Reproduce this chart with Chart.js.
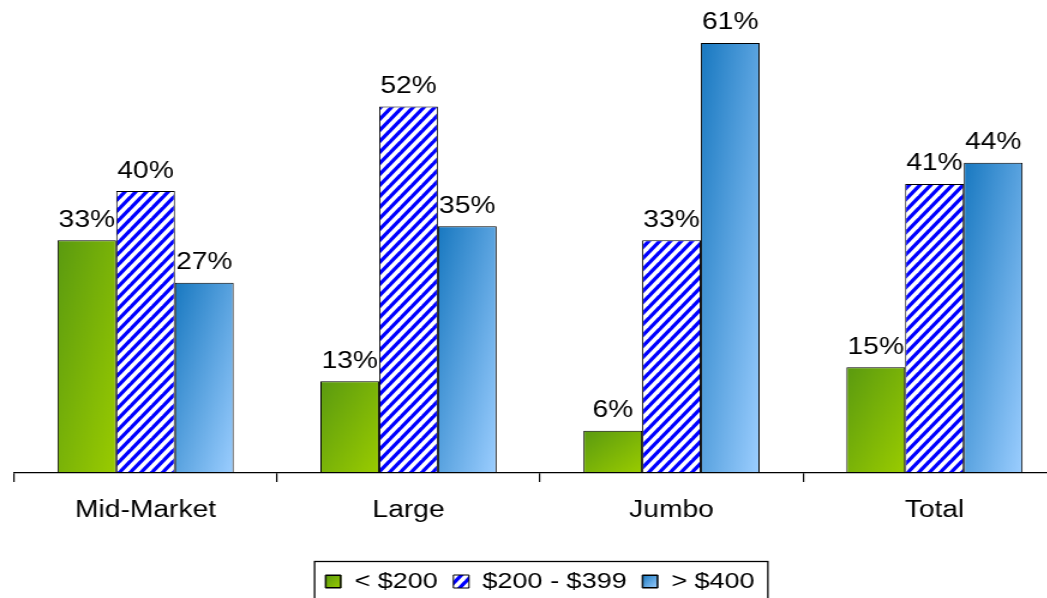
<!DOCTYPE html>
<html>
<head>
<meta charset="utf-8">
<script src="https://cdn.jsdelivr.net/npm/chart.js@4/dist/chart.umd.min.js"></script>
<style>
html, body { margin: 0; padding: 0; background: #fff; overflow: hidden; }
/* 元画像は横に引き伸ばされているので同じ比率で伸ばす */
#wrap { width: 900px; height: 598px; transform: scaleX(1.2); transform-origin: 0 0; }
</style>
</head>
<body>
<div id="wrap"><canvas id="segmentChart"></canvas></div>
<script>
// 区分ごとの価格帯割合
const categories = ['Mid-Market', 'Large', 'Jumbo', 'Total'];
const seriesNames = ['< $200', '$200 - $399', '> $400'];
const under200 = [33, 13, 6, 15];
const from200to399 = [40, 52, 33, 41];
const over400 = [27, 35, 61, 44];

const FONT = "'Liberation Sans', Arial, sans-serif";
const CAT_PCT = 0.67;
const GREEN = ['#5a9a10', '#9acc00'];
const BLUE = ['#1878c0', '#9cceff'];

const canvas = document.getElementById('segmentChart');
const ctx2d = canvas.getContext('2d');

// 斜線パターン（青／白）
function makeStripes() {
    const w = 9, h = 11;
    const c = document.createElement('canvas');
    c.width = w; c.height = h;
    const g = c.getContext('2d');
    g.fillStyle = '#fff';
    g.fillRect(0, 0, w, h);
    g.strokeStyle = '#0000ff';
    g.lineWidth = 3.3;
    for (let k = 0; k <= 2; k++) {
        g.beginPath();
        g.moveTo((k + 1) * w, -h);
        g.lineTo((k - 2) * w, 2 * h);
        g.stroke();
    }
    return ctx2d.createPattern(c, 'repeat');
}

// 左上→右下の斜めグラデーション
function diagGradient(c, left, top, w, h, colors) {
    const k = 2 * w * h / (w * w + h * h);
    const grad = c.createLinearGradient(left, top, left + h * k, top + w * k);
    grad.addColorStop(0, colors[0]);
    grad.addColorStop(1, colors[1]);
    return grad;
}

// 棒ごとのグラデーション
function barGradient(colors, legendColor) {
    return function (ctx) {
        if (ctx.type !== 'data') return legendColor;
        const chart = ctx.chart;
        const xs = chart.scales.x, ys = chart.scales.y;
        if (!xs || !ys || !chart.chartArea) return legendColor;
        const catW = (xs.right - xs.left) / categories.length;
        const bw = catW * CAT_PCT / 3;
        const left = xs.getPixelForValue(ctx.dataIndex) + (ctx.datasetIndex - 1.5) * bw;
        const top = ys.getPixelForValue(ctx.raw);
        const bottom = ys.getPixelForValue(0);
        return diagGradient(chart.ctx, left, top, bw, Math.max(bottom - top, 1), colors);
    };
}

// 棒の上に % を表示
const valueLabels = {
    id: 'valueLabels',
    afterDatasetsDraw(chart) {
        const c = chart.ctx;
        c.save();
        c.font = '23.5px ' + FONT;
        c.fillStyle = '#000';
        c.textAlign = 'center';
        c.textBaseline = 'alphabetic';
        chart.data.datasets.forEach((ds, i) => {
            chart.getDatasetMeta(i).data.forEach((bar, j) => {
                c.fillText(ds.data[j] + '%', bar.x, bar.y - 13.5);
            });
        });
        c.restore();
    }
};

// 凡例の枠線とマーカーのグラデーション
const legendFrame = {
    id: 'legendFrame',
    afterDraw(chart) {
        const hb = chart.legend && chart.legend.legendHitBoxes;
        if (!hb || !hb.length) return;
        const c = chart.ctx;
        c.save();
        const box = 13;
        [[0, GREEN], [2, BLUE]].forEach(([i, colors]) => {
            const it = hb[i];
            if (!it) return;
            const bx = it.left, by = it.top + (it.height - box) / 2;
            c.fillStyle = diagGradient(c, bx, by, box, box, colors);
            c.fillRect(bx, by, box, box);
            c.strokeStyle = '#000';
            c.lineWidth = 1;
            c.strokeRect(bx + 0.5, by + 0.5, box - 1, box - 1);
        });
        const first = hb[0], last = hb[hb.length - 1];
        const cy = first.top + first.height / 2;
        c.strokeStyle = '#000';
        c.lineWidth = 1.3;
        c.strokeRect(first.left - 9, cy - 20, last.left + last.width - first.left + 20, 60);
        c.restore();
    }
};

new Chart(ctx2d, {
    type: 'bar',
    data: {
        labels: categories,
        datasets: [
            { label: seriesNames[0], data: under200, backgroundColor: barGradient(GREEN, '#7db40a') },
            { label: seriesNames[1], data: from200to399, backgroundColor: makeStripes() },
            { label: seriesNames[2], data: over400, backgroundColor: barGradient(BLUE, '#5fa2e0') }
        ]
    },
    options: {
        responsive: true,
        maintainAspectRatio: false,
        animation: false,
        layout: { padding: { top: 14.75, left: 11.7, right: 11.7, bottom: -4.75 } },
        datasets: {
            bar: {
                categoryPercentage: CAT_PCT,
                barPercentage: 1,
                borderColor: '#000',
                borderWidth: 1,
                borderSkipped: false
            }
        },
        scales: {
            x: {
                grid: { display: true, offset: true, drawOnChartArea: false, drawTicks: true, tickLength: 9, color: '#000', lineWidth: 1.2 },
                border: { display: true, color: '#000', width: 1.3 },
                ticks: { color: '#000', padding: 14, font: { family: FONT, size: 23.5 } },
                afterFit(scale) { scale.height = 84.25; }
            },
            y: { display: false, min: 0, max: 65 }
        },
        plugins: {
            legend: {
                position: 'bottom',
                labels: { color: '#000', boxWidth: 13, boxHeight: 13, padding: 13, font: { family: FONT, size: 22.5 } }
            },
            tooltip: { enabled: false }
        }
    },
    plugins: [valueLabels, legendFrame]
});
</script>
</body>
</html>
